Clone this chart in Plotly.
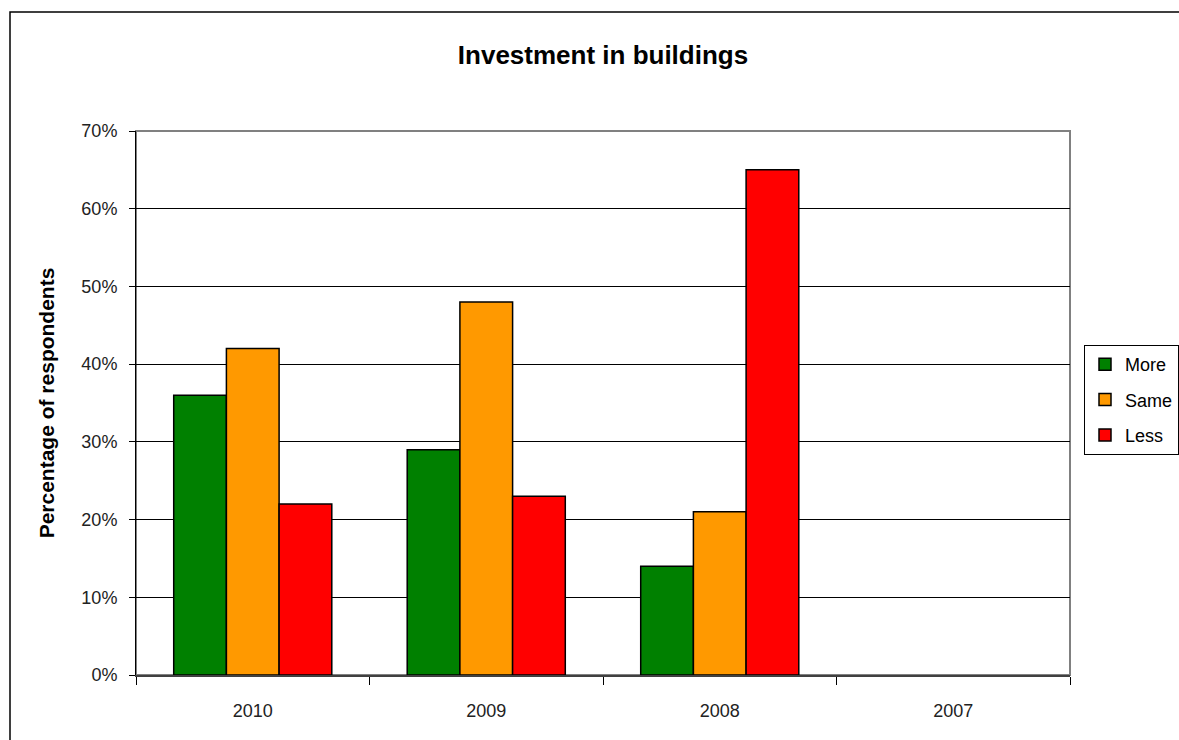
import plotly.graph_objects as go

# Survey responses: share of respondents by year
years = ["2010", "2009", "2008", "2007"]
more = [0.36, 0.29, 0.14, None]
same = [0.42, 0.48, 0.21, None]
less = [0.22, 0.23, 0.65, None]

series = [
    ("More", more, "#008000"),
    ("Same", same, "#FF9900"),
    ("Less", less, "#FF0000"),
]

FONT = "Arial, Liberation Sans, sans-serif"

fig = go.Figure()
for name, vals, color in series:
    fig.add_trace(go.Bar(
        x=years, y=vals, name=name, legendgroup=name,
        marker=dict(color=color, line=dict(color="#000000", width=1.5)),
    ))

fig.update_layout(
    width=1179, height=740,
    margin=dict(l=136, r=109, t=131, b=65, autoexpand=False),
    paper_bgcolor="white", plot_bgcolor="white",
    barmode="group", bargap=0.323, bargroupgap=0,
    font=dict(family=FONT, size=18, color="#000000"),
    title=dict(text="<b>Investment in buildings</b>", x=0.5, xanchor="center",
               xref="paper", y=1 - 55 / 740, yanchor="middle",
               font=dict(size=26, family=FONT, color="#000000")),
    showlegend=True,
    legend=dict(xref="container", yref="container",
                x=1084 / 1179, y=1 - 345 / 740, xanchor="left", yanchor="top",
                bordercolor="#000000", borderwidth=1, bgcolor="white",
                font=dict(size=18, family=FONT), traceorder="grouped",
                tracegroupgap=9, itemwidth=30),
)

fig.update_yaxes(
    range=[0, 0.70], dtick=0.10, tickformat=".0%",
    showgrid=True, gridcolor="#000000", gridwidth=1,
    showline=True, linecolor="#000000", linewidth=1,
    ticks="outside", ticklen=6, tickcolor="#000000",
    ticklabelstandoff=8,
    zeroline=False,
    title=dict(text="<b>Percentage of respondents</b>", standoff=21,
               font=dict(size=21, family=FONT)),
    tickfont=dict(size=18, family=FONT, color="#222222"),
)
fig.update_xaxes(
    showline=True, linecolor="#404040", linewidth=2,
    ticks="outside", tickson="boundaries", ticklen=8, tickcolor="#000000",
    ticklabelstandoff=18,
    tickfont=dict(size=18, family=FONT, color="#222222"),
    showgrid=False,
)

# Plot-area frame (top and right edges in gray)
fig.add_shape(type="rect", xref="paper", yref="paper", x0=0, x1=1, y0=0, y1=1,
              line=dict(color="#808080", width=2), layer="below")
# Outer chart border
fig.add_shape(type="rect", xref="paper", yref="paper",
              x0=-0.1349, x1=2, y0=-2, y1=1.2188,
              line=dict(color="#000000", width=1.5), layer="below")

fig.write_html("out.html")
